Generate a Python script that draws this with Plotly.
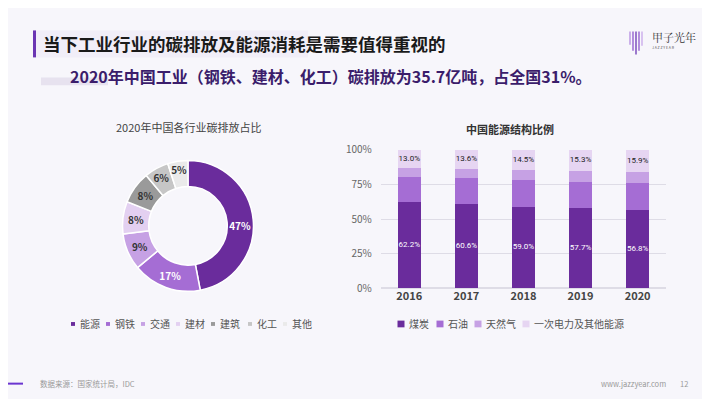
import plotly.graph_objects as go

# ---- data ----
pie_labels = ["能源", "钢铁", "交通", "建材", "建筑", "化工", "其他"]
pie_values = [47, 17, 9, 8, 8, 6, 5]
pie_colors = ["#6a2c9c", "#a56dd4", "#c6a1e4", "#e3d0f1", "#9a9a9a", "#c6c6c6", "#eaeaea"]
pie_text_colors = ["white", "white", "#333333", "#333333", "#333333", "#333333", "#333333"]

years = ["2016", "2017", "2018", "2019", "2020"]
coal = [62.2, 60.6, 59.0, 57.7, 56.8]
oil = [18.5, 18.9, 18.9, 19.0, 18.9]
gas = [6.2, 6.9, 7.6, 8.0, 8.4]
other = [13.0, 13.6, 14.5, 15.3, 15.9]
bar_names = ["煤炭", "石油", "天然气", "一次电力及其他能源"]
bar_colors = ["#6a2c9c", "#a56dd4", "#c6a1e4", "#e6d5f2"]
y_ticks = [0, 25, 50, 75, 100]
y_tick_labels = ["0%", "25%", "50%", "75%", "100%"]

FONT = "Noto Sans CJK SC"
NARROW = "Roboto, Noto Sans CJK SC"

fig = go.Figure()

fig.add_trace(go.Pie(
    labels=pie_labels, values=pie_values, hole=0.6, sort=False,
    direction="clockwise", rotation=0,
    marker=dict(colors=pie_colors, line=dict(color="white", width=1.5)),
    texttemplate="%{value}%", textposition="inside", insidetextorientation="horizontal",
    textfont=dict(color=pie_text_colors, size=10, family=FONT, weight="bold"),
    domain=dict(x=[0.1577, 0.3493], y=[0.283, 0.624]),
    showlegend=False,
))

series = [coal, oil, gas, other]
for i, (name, vals) in enumerate(zip(bar_names, series)):
    fig.add_trace(go.Bar(
        x=years, y=vals, name=name, marker=dict(color=bar_colors[i], line=dict(width=0)),
        showlegend=False,
    ))

# segment labels for coal (bottom) and primary electricity (top), placed at segment centres
coal_mid = [v / 2 for v in coal]
other_mid = [100 - v / 2 for v in other]
fig.add_trace(go.Scatter(
    x=years, y=coal_mid, mode="text", text=[f"{v:.1f}%" for v in coal],
    textfont=dict(color="white", size=8, family=NARROW), showlegend=False, hoverinfo="skip"))
fig.add_trace(go.Scatter(
    x=years, y=other_mid, mode="text", text=[f"{v:.1f}%" for v in other],
    textfont=dict(color="#222222", size=8, family=NARROW), showlegend=False, hoverinfo="skip"))

fig.update_layout(
    width=710, height=399,
    margin=dict(l=0, r=0, t=0, b=0),
    paper_bgcolor="#f7f6fb", plot_bgcolor="rgba(0,0,0,0)",
    barmode="stack", bargap=0.6,
    font=dict(family=FONT, color="#555555"),
    uniformtext=dict(minsize=10, mode="show"),
    xaxis=dict(domain=[0.525, 0.927], showgrid=False, showline=False, ticks="",
               tickfont=dict(size=11, color="#444444", weight="bold"), fixedrange=True),
    yaxis=dict(domain=[0.2907, 0.6516], range=[0, 100], tickmode="array",
               tickvals=y_ticks, ticktext=y_tick_labels,
               showgrid=True, gridcolor="#dedce6", gridwidth=1,
               zeroline=True, zerolinecolor="#dedce6", showline=False,
               tickfont=dict(size=10, color="#666666"), ticks="", ticklabelstandoff=8),
)

shapes = []
ann = []
# header decorations
shapes.append(dict(type="rect", xref="paper", yref="paper", x0=26/710, x1=300/710,
                   y0=1-43/399, y1=1-15/399, fillcolor="rgba(228,220,242,0.3)", line=dict(width=0), layer="below"))
shapes.append(dict(type="rect", xref="paper", yref="paper", x0=25/710, x1=28/710,
                   y0=1-43/399, y1=1-15/399, fillcolor="#6b35b3", line=dict(width=0)))
shapes.append(dict(type="rect", xref="paper", yref="paper", x0=33/710, x1=100/710,
                   y0=1-72/399, y1=1-64/399, fillcolor="rgba(220,214,232,0.6)", line=dict(width=0), layer="below"))
# logo lines
logo_x = [622, 625, 628, 631, 634]
logo_len = [14, 20, 24, 20, 15]
logo_col = ["#b48be0", "#8e55cc", "#6b35b3", "#8e55cc", "#c7a6ea"]
for lx, ll, lc in zip(logo_x, logo_len, logo_col):
    shapes.append(dict(type="line", xref="paper", yref="paper", x0=lx/710, x1=lx/710,
                       y0=1-(16+ll)/399, y1=1-16/399, line=dict(color=lc, width=1.3)))
# footer lines
shapes.append(dict(type="line", xref="paper", yref="paper", x0=0, x1=15/710, y0=1-382/399, y1=1-382/399,
                   line=dict(color="#6b35d0", width=2)))
shapes.append(dict(type="line", xref="paper", yref="paper", x0=697/710, x1=1, y0=1-382/399, y1=1-382/399,
                   line=dict(color="#6b35d0", width=2)))

def A(x, y, text, size, color="#333333", bold=False, xanchor="left", family=FONT):
    ann.append(dict(xref="paper", yref="paper", x=x/710, y=1-y/399, text=text, showarrow=False,
                    xanchor=xanchor, yanchor="middle",
                    font=dict(size=size, color=color, family=family, weight="bold" if bold else "normal")))

A(33, 29, "当下工业行业的碳排放及能源消耗是需要值得重视的", 17.5, "#1a1a1a", True)
A(323, 62, "2020年中国工业（钢铁、建材、化工）碳排放为35.7亿吨，占全国31%。", 16, "#3b1d6b", True, "center")
A(642, 22, "甲子光年", 11, "#333333", False, "left", "Noto Serif CJK SC, Noto Sans CJK SC")
A(642, 33, "J A Z Z Y E A R", 3.5, "#555555")
A(180, 115, "2020年中国各行业碳排放占比", 11, "#444444", False, "center")
A(502, 117, "中国能源结构比例", 11, "#333333", True, "center")
A(30, 382, "数据来源：国家统计局，IDC", 7.5, "#999999")
A(660, 382, "www.jazzyear.com", 7.5, "#999999", False, "right")
A(676, 382, "12", 7.5, "#999999", False, "center")

# pie legend
pie_leg_x = [65, 100, 135, 170, 205, 242, 277]
for lx, lab, col in zip(pie_leg_x, pie_labels, pie_colors):
    shapes.append(dict(type="rect", xref="paper", yref="paper", x0=(lx-2)/710, x1=(lx+2)/710,
                       y0=1-(320+2)/399, y1=1-(320-2)/399, fillcolor=col, line=dict(width=0)))
    A(lx+5, 319.5, lab, 10, "#555555")

# bar legend
bar_leg_x = [393, 432, 470, 518]
for lx, lab, col in zip(bar_leg_x, bar_names, bar_colors):
    shapes.append(dict(type="rect", xref="paper", yref="paper", x0=(lx-3.5)/710, x1=(lx+3.5)/710,
                       y0=1-(320+3.5)/399, y1=1-(320-3.5)/399, fillcolor=col, line=dict(width=0)))
    A(lx+6, 319.5, lab, 10, "#555555")

fig.update_layout(shapes=shapes, annotations=ann)
fig.write_html("out.html")
